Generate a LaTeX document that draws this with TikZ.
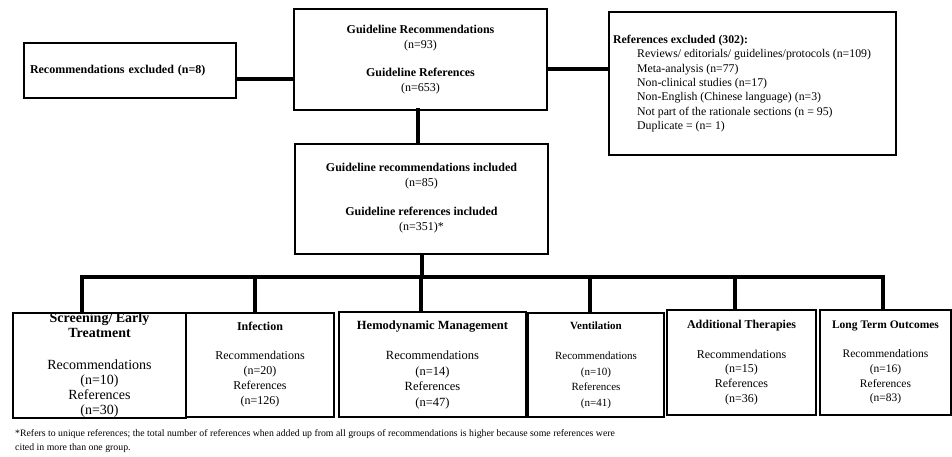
\documentclass[tikz,border=0pt]{standalone}
\usepackage{fontspec}
\setmainfont{Liberation Serif}
\newcommand{\fs}[2]{\fontsize{#1}{#2}\selectfont}
\tikzset{
  box/.style={draw=black, line width=2pt, inner sep=0pt, align=center},
  link/.style={line width=4pt, line cap=rect},
}
\begin{document}
\begin{tikzpicture}[x=1pt,y=-1pt]
\useasboundingbox (0,0) rectangle (952,456);
% top row
\node[box, minimum width=212pt, minimum height=55pt, anchor=north west, align=left, text width=200pt, font=\fs{12}{15}\bfseries] (rex) at (23,42)
  {Recommendations excluded (n=8)};
\node[box, minimum width=253pt, minimum height=101pt, font=\fs{12}{15}] (main) at (420.5,59.5)
  {\textbf{Guideline Recommendations}\\(n=93)\\[13pt]\textbf{Guideline References}\\(n=653)};
\node[box, minimum width=287pt, minimum height=143pt, anchor=north west] (fex) at (608,11) {};
\node[anchor=north west, align=left, inner sep=0pt, font=\fs{11.8}{14.3}] (fext) at (613,35)
  {\textbf{References excluded (302):}\\
   \hspace*{24pt}Reviews/ editorials/ guidelines/protocols (n=109)\\
   \hspace*{24pt}Meta-analysis (n=77)\\
   \hspace*{24pt}Non-clinical studies (n=17)\\
   \hspace*{24pt}Non-English (Chinese language) (n=3)\\
   \hspace*{24pt}Not part of the rationale sections (n = 95)\\
   \hspace*{24pt}Duplicate = (n= 1)};
% included
\node[box, minimum width=253pt, minimum height=110pt, font=\fs{12}{15}] (inc) at (421.5,198.5)
  {\textbf{Guideline recommendations included}\\(n=85)\\[14pt]\textbf{Guideline references included}\\(n=351)*};
% bottom row
\node[box, minimum width=173pt, minimum height=105pt, anchor=north west, font=\fs{14}{15}] (b1) at (12,312)
  {\textbf{Screening/ Early}\\\textbf{Treatment}\\[17pt]Recommendations\\(n=10)\\References\\(n=30)};
\node[box, minimum width=148pt, minimum height=104pt, anchor=north west, font=\fs{12}{15}] (b2) at (185,312)
  {\textbf{Infection}\\[14pt]Recommendations\\(n=20)\\References\\(n=126)};
\node[box, minimum width=187pt, minimum height=105pt, anchor=north west, font=\fs{12.5}{15.5}] (b3) at (338,311)
  {\textbf{Hemodynamic Management}\\[15pt]Recommendations\\(n=14)\\References\\(n=47)};
\node[box, minimum width=136pt, minimum height=104pt, anchor=north west, font=\fs{11}{15.5}] (b4) at (527,312)
  {\textbf{Ventilation}\\[15pt]Recommendations\\(n=10)\\References\\(n=41)};
\node[box, minimum width=149pt, minimum height=105pt, anchor=north west, font=\fs{12}{14.7}] (b5) at (666,309)
  {\textbf{Additional Therapies}\\[15pt]Recommendations\\(n=15)\\References\\(n=36)};
\node[box, minimum width=131pt, minimum height=105pt, anchor=north west, font=\fs{11.5}{14.7}] (b6) at (819,309)
  {\textbf{Long Term Outcomes}\\[15pt]Recommendations\\(n=16)\\References\\(n=83)};
% connectors
\draw[link] (rex.east |- 0,79) -- (main.west |- 0,79);
\draw[link] (main.east |- 0,69) -- (fex.west |- 0,69);
\draw[link] (418,110) -- (418,143);
\coordinate (bus) at (422,277);
\draw[link] (inc.south -| bus) -- (bus);
\draw[link] (82,312) -- (82,277) -- (883,277) -- (883,309);
\draw[link] (255,277) -- (255,312);
\draw[link] (421,277) -- (421,311);
\draw[link] (590,277) -- (590,312);
\draw[link] (735,277) -- (735,309);
% footnote
\node[anchor=north west, align=left, inner sep=0pt, font=\fs{9.8}{14}] (note) at (15,429)
  {*Refers to unique references; the total number of references when added up from all groups of recommendations is higher because some references were\\cited in more than one group.};
\end{tikzpicture}
\end{document}
